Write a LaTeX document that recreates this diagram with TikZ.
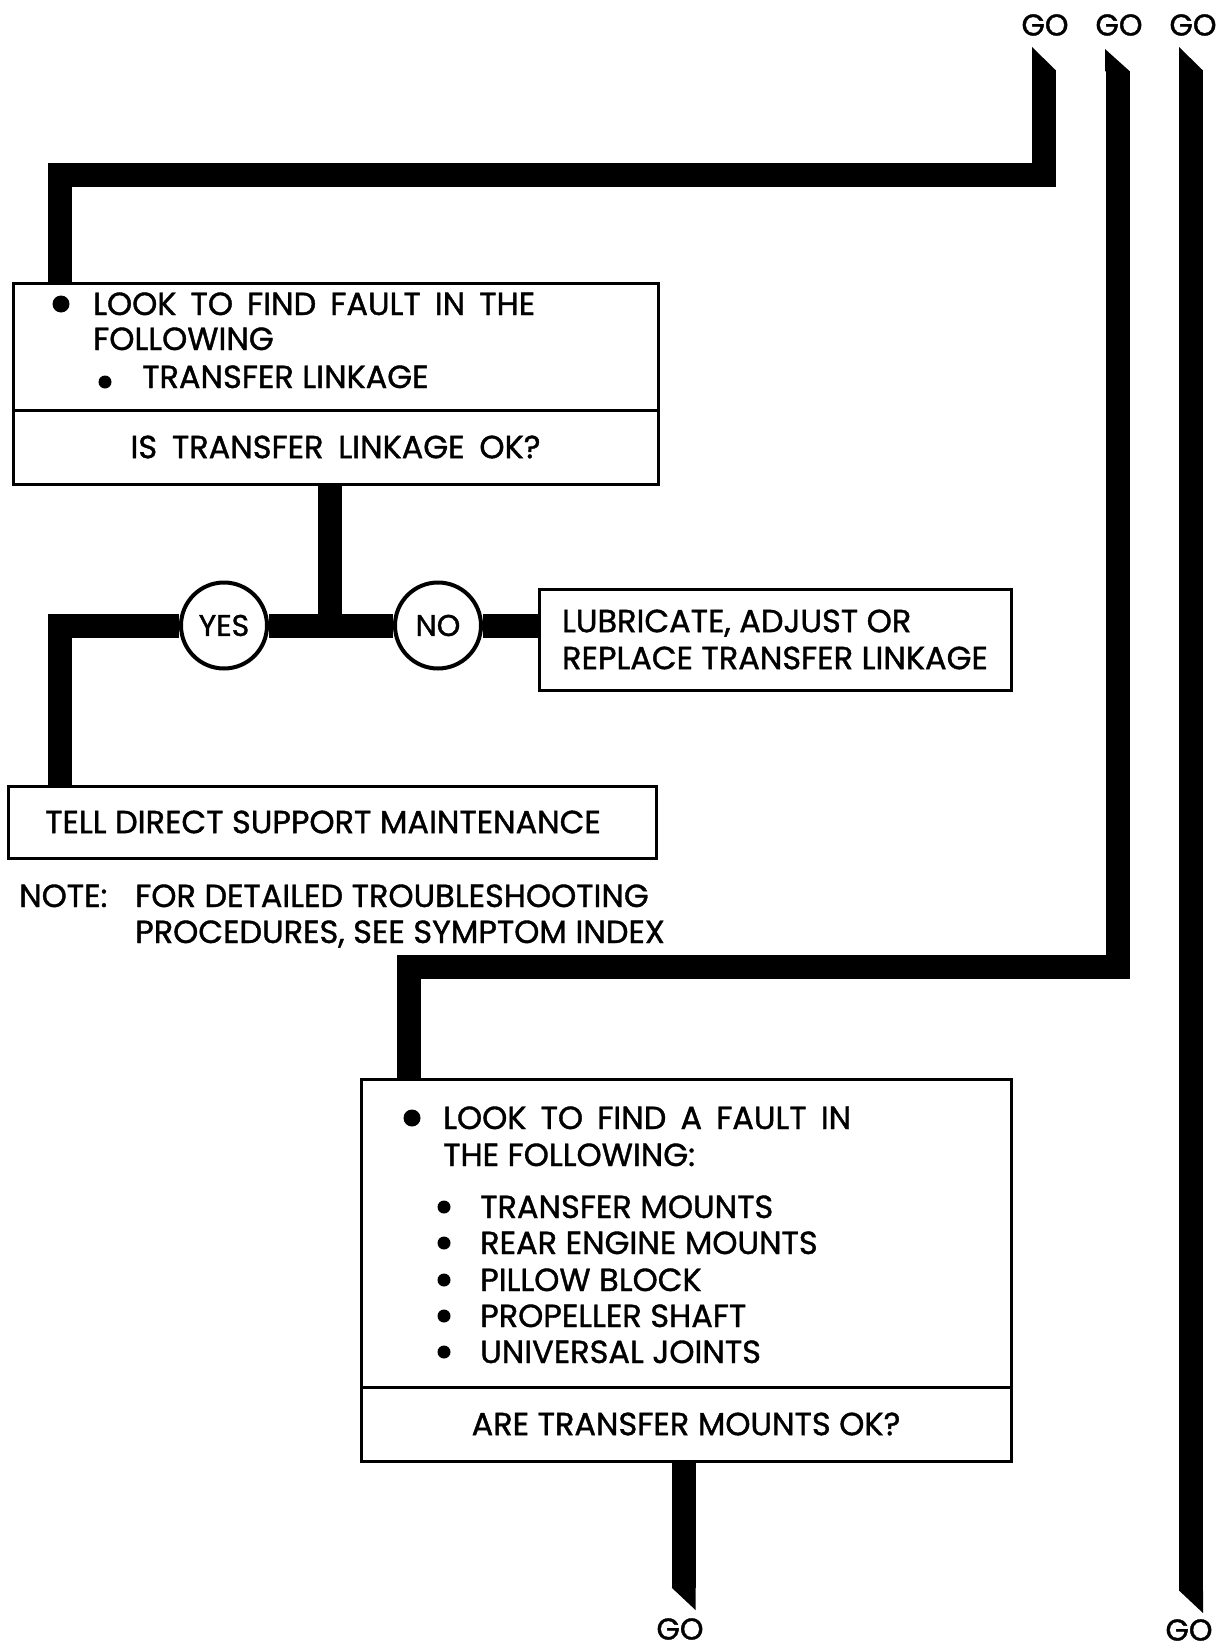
\documentclass[tikz,border=0pt]{standalone}
\usepackage{fontspec}
\setmainfont[FakeStretch=1.0,FakeBold=1.2]{Poppins}
\begin{document}
\begin{tikzpicture}[x=1pt,y=-1pt,
  every node/.style={font=\fontsize{32}{36}\selectfont},
  bar/.style={line width=24pt},
  boxed/.style={draw,line width=3pt,inner sep=0pt},
  txt/.style={anchor=base west,inner sep=0pt},
  golbl/.style={inner sep=0pt,font=\fontsize{30}{34}\selectfont},
  yesno/.style={circle,draw,line width=4pt,fill=white,minimum size=86pt,inner sep=0pt,font=\fontsize{30}{34}\selectfont}]
\useasboundingbox (0,0) rectangle (1220,1651);
% boxes
\node[boxed,minimum width=645pt,minimum height=127pt] (find1) at (335.5,346.5) {};
\node[boxed,minimum width=645pt,minimum height=74pt] (ask1) at (335.5,447) {\makebox[410pt][s]{IS TRANSFER LINKAGE OK?}};
\node[boxed,minimum width=472pt,minimum height=101pt,align=left] (fix1) at (775,639.5) {LUBRICATE, ADJUST OR\\[1pt]REPLACE TRANSFER LINKAGE};
\node[boxed,minimum width=648pt,minimum height=72pt] (tell) at (332,822) {TELL DIRECT SUPPORT MAINTENANCE\hspace*{18pt}};
\node[boxed,minimum width=650pt,minimum height=308pt] (find2) at (686,1233) {};
\node[boxed,minimum width=650pt,minimum height=74pt] (ask2) at (686,1424) {ARE TRANSFER MOUNTS OK?};
% first box text
\fill (61,304) circle (8.5);
\node[txt] (find1a) at (93,315) {\makebox[442pt][s]{LOOK TO FIND FAULT IN THE}};
\node[txt] (find1b) at (93,350) {FOLLOWING};
\fill (105,382) circle (6.5);
\node[txt] (find1c) at (142,388) {TRANSFER LINKAGE};
% note
\node[txt] (note) at (19,907) {NOTE:};
\node[txt] (note1) at (135,907) {FOR DETAILED TROUBLESHOOTING};
\node[txt] (note2) at (135,943) {PROCEDURES, SEE SYMPTOM INDEX};
% second box text
\fill (412,1118) circle (8.5);
\node[txt] (find2a) at (443,1129) {\makebox[408pt][s]{LOOK TO FIND A FAULT IN}};
\node[txt] (find2b) at (443,1166) {THE FOLLOWING:};
\foreach \y/\lbl [count=\i] in {1218/TRANSFER MOUNTS,1254/REAR ENGINE MOUNTS,1291/PILLOW BLOCK,1327/PROPELLER SHAFT,1363/UNIVERSAL JOINTS} {
  \fill (444,\y-11) circle (6.5);
  \node[txt] (part\i) at (480,\y) {\lbl};
}
% yes / no
\node[yesno] (yes) at (224,625.5) {YES};
\node[yesno] (no) at (438,625.5) {NO};
% go labels
\node[golbl] (go1) at (1045,25) {GO};
\node[golbl] (go2) at (1119,25) {GO};
\node[golbl] (go3) at (1193,25) {GO};
\node[golbl] (go4) at (680,1629) {GO};
\node[golbl] (go5) at (1189,1630) {GO};
% bars
\coordinate (top1) at (1044,70); \coordinate (c1) at (59.5,175);
\draw[bar] (top1) |- (c1) -- (c1 |- find1.north);
\fill (1032,70.5) -- (1032,47) -- (1056,70.5) -- cycle;
\coordinate (stem) at (330,625.5); \coordinate (yl) at (59.5,625.5);
\draw[bar] (ask1.south -| stem) -- (stem);
\draw[bar] (fix1.west |- no) -- (no);
\draw[bar] (no) -- (yes);
\draw[bar] (yes) -- (yl) -- (yl |- tell.north);
\coordinate (top2) at (1117.5,71); \coordinate (c2) at (408.5,967);
\draw[bar] (top2) |- (c2) -- (c2 |- find2.north);
\fill (1105,71.5) -- (1105,49) -- (1130,71.5) -- cycle;
\coordinate (top3) at (1191,70); \coordinate (end3) at (1191,1591);
\draw[bar] (top3) -- (end3);
\fill (1179,70.5) -- (1179,47) -- (1203,70.5) -- cycle;
\fill (1179,1590.5) -- (1203,1590.5) -- (1203,1613) -- cycle;
\coordinate (end4) at (683.5,1588);
\draw[bar] (ask2.south -| end4) -- (end4);
\fill (671.5,1587.5) -- (695.5,1587.5) -- (695.5,1610) -- cycle;
\end{tikzpicture}
\end{document}
